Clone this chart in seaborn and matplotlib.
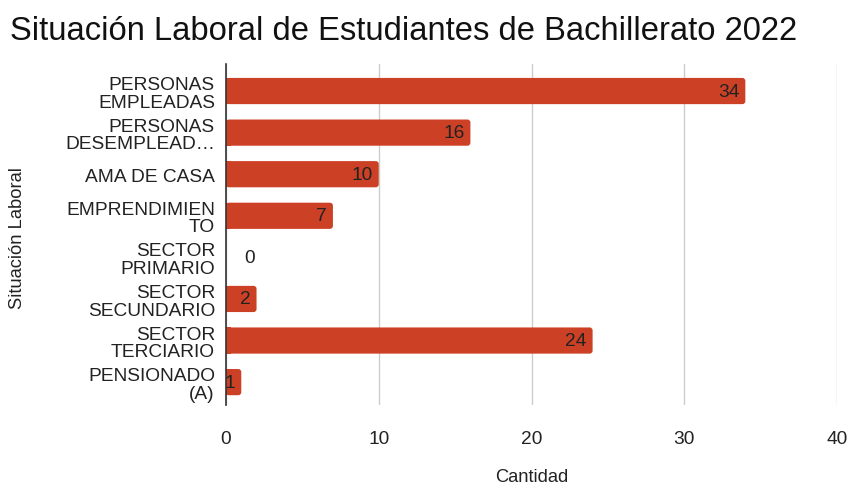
import matplotlib
matplotlib.use("Agg")
import matplotlib.pyplot as plt
from matplotlib.patches import FancyBboxPatch
import seaborn as sns
import pandas as pd

categorias = [
    "PERSONAS\nEMPLEADAS",
    "PERSONAS\nDESEMPLEAD…",
    "AMA DE CASA",
    "EMPRENDIMIEN\nTO",
    "SECTOR\nPRIMARIO",
    "SECTOR\nSECUNDARIO",
    "SECTOR\nTERCIARIO",
    "PENSIONADO\n(A)",
]
cantidades = [34, 16, 10, 7, 0, 2, 24, 1]
ticks_x = [0, 10, 20, 30, 40]

titulo = "Situación Laboral de Estudiantes de Bachillerato 2022"
etiqueta_x = "Cantidad"
etiqueta_y = "Situación Laboral"

color_barra = "#cc4125"
color_texto = "#222222"
fs = 13.8
fs_eje = 13.2

sns.set_theme(style="white")
plt.rcParams["font.family"] = ["Liberation Sans", "DejaVu Sans"]

df = pd.DataFrame({"categoria": categorias, "cantidad": cantidades})

W, H = 852, 485
fig = plt.figure(figsize=(W / 100, H / 100), dpi=100)
ax = fig.add_axes([226 / W, 1 - 406 / H, (837 - 226) / W, (406 - 65) / H])

sns.barplot(data=df, x="cantidad", y="categoria", orient="h",
            color=color_barra, saturation=1, width=0.63, ax=ax, zorder=2)

ax.set_xlim(0, 40)
ax.set_ylim(len(categorias) - 0.45, -0.65)

# Replace the plain rectangles with bars that have softly rounded ends
px_x = 40 / (837 - 226)
px_y = (len(categorias) - 0.45 + 0.65) / (406 - 65)
radio_px = 3
for p in list(ax.patches):
    x0, y0, w, h = p.get_x(), p.get_y(), p.get_width(), p.get_height()
    p.remove()
    if w <= 0:
        continue
    r = min(radio_px * px_x, w / 2)
    fb = FancyBboxPatch((x0, y0), w, h,
                        boxstyle=f"round,pad=0,rounding_size={r}",
                        mutation_aspect=px_y / px_x,
                        facecolor=color_barra, edgecolor="none", zorder=2)
    ax.add_patch(fb)
    # square off the left end against the axis
    ax.add_patch(plt.Rectangle((x0, y0), min(w, r * 1.5), h,
                               facecolor=color_barra, edgecolor="none", zorder=2))

# Value labels
for i, v in enumerate(cantidades):
    if v == 0:
        ax.text(v + 24 * px_x, i, str(v), ha="center", va="center",
                fontsize=fs, color=color_texto, zorder=3)
    else:
        ax.text(v - 6 * px_x, i, str(v), ha="right", va="center",
                fontsize=fs, color=color_texto, zorder=3)

ax.set_xticks(ticks_x)
ax.set_xticklabels([str(t) for t in ticks_x], fontsize=fs, color=color_texto)
ax.tick_params(axis="x", length=0, pad=18)
ax.tick_params(axis="y", length=0, pad=8)
for lbl in ax.get_yticklabels():
    lbl.set_fontsize(fs)
    lbl.set_color(color_texto)
    lbl.set_linespacing(1.05)
    lbl.set_ha("right")

ax.grid(axis="x", color="#cccccc", linewidth=1, zorder=0)
ax.grid(axis="y", visible=False)
for s in ["top", "right", "bottom"]:
    ax.spines[s].set_visible(False)
ax.spines["left"].set_color("#333333")
ax.spines["left"].set_linewidth(1.2)
ax.spines["left"].set_zorder(4)

ax.set_xlabel("")
ax.set_ylabel("")
fig.text(532 / W, 1 - 478 / H, etiqueta_x, ha="center", va="center",
         fontsize=fs_eje, color=color_texto)
fig.text(18 / W, 1 - 238 / H, etiqueta_y, rotation=90, ha="center", va="center",
         fontsize=fs_eje, color=color_texto)

fig.text(10 / W, 1 - 31 / H, titulo, ha="left", va="center",
         fontsize=23.6, color="#111111")

fig.savefig("out.png", dpi=100)
